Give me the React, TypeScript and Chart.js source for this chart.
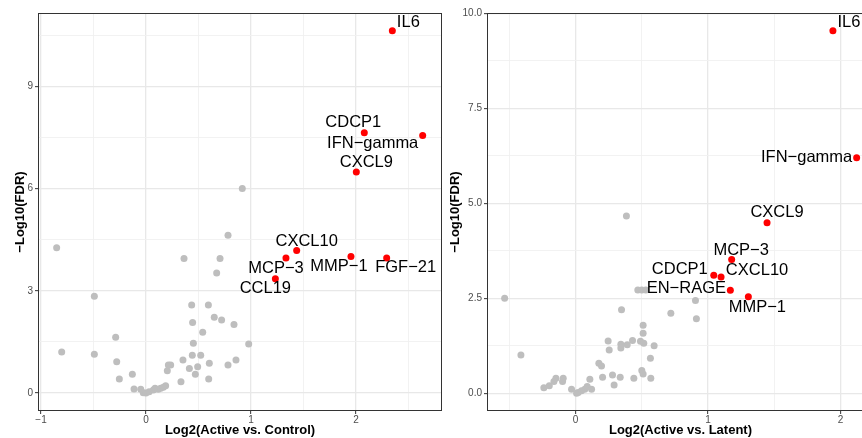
import React, { useEffect, useRef } from "react";
import { Chart, registerables } from "chart.js";

Chart.register(...registerables);

const FONT = '"Liberation Sans", Arial, Helvetica, sans-serif';

// ---------- Left panel: Active vs. Control ----------
const LEFT_GRAY_X = [
  -0.851, -0.803, -0.492, -0.492, -0.289, -0.279, -0.254, -0.13, -0.114, -0.05,
  -0.026, 0.0, 0.03, 0.07, 0.086, 0.117, 0.14, 0.165, 0.187, 0.203,
  0.213, 0.235, 0.333, 0.352, 0.362, 0.413, 0.435, 0.444, 0.451, 0.441,
  0.47, 0.492, 0.521, 0.54, 0.594, 0.603, 0.597, 0.65, 0.673, 0.705,
  0.72, 0.781, 0.781, 0.838, 0.857, 0.978, 0.917,
];
const LEFT_GRAY_Y = [
  4.26, 1.2, 2.84, 1.14, 1.64, 0.92, 0.41, 0.55, 0.12, 0.11,
  0.01, 0.0, 0.04, 0.09, 0.14, 0.11, 0.14, 0.17, 0.21, 0.65,
  0.82, 0.82, 0.33, 0.97, 3.95, 0.72, 2.58, 2.07, 1.46, 1.11,
  0.55, 0.77, 1.11, 1.78, 2.58, 0.87, 0.41, 2.22, 3.52, 3.95,
  2.14, 4.63, 0.82, 2.01, 0.97, 1.44, 6.0,
];
const LEFT_RED_NAMES = ["IL6", "CDCP1", "IFN\u2212gamma", "CXCL9", "CXCL10", "MCP\u22123", "CCL19", "MMP\u22121", "FGF\u221221"];
const LEFT_RED_X = [2.346, 2.079, 2.635, 2.003, 1.435, 1.333, 1.232, 1.952, 2.292];
const LEFT_RED_Y = [10.63, 7.64, 7.56, 6.49, 4.18, 3.96, 3.35, 4.01, 3.96];
const LEFT_X_MAJOR = [-1, 0, 1, 2];
const LEFT_X_LABELS = ["\u22121", "0", "1", "2"];
const LEFT_X_MINOR = [-0.5, 0.5, 1.5, 2.5];
const LEFT_Y_MAJOR = [0, 3, 6, 9];
const LEFT_Y_LABELS = ["0", "3", "6", "9"];
const LEFT_Y_MINOR = [1.5, 4.5, 7.5, 10.5];
const LEFT_X_TITLE = "Log2(Active vs. Control)";

// ---------- Right panel: Active vs. Latent ----------
const RIGHT_GRAY_X = [
  -0.535, -0.412, -0.239, -0.198, -0.163, -0.148, -0.098, -0.093, -0.03, 0.008,
  0.02, 0.045, 0.07, 0.088, 0.108, 0.121, 0.176, 0.196, 0.204, 0.246,
  0.254, 0.279, 0.291, 0.337, 0.342, 0.342, 0.347, 0.39, 0.384, 0.43,
  0.44, 0.49, 0.5, 0.51, 0.515, 0.51, 0.51, 0.565, 0.568, 0.593,
  0.47, 0.5, 0.53, 0.719, 0.905, 0.912,
];
const RIGHT_GRAY_Y = [
  2.5, 1.01, 0.15, 0.2, 0.31, 0.4, 0.31, 0.4, 0.11, 0.0,
  0.02, 0.07, 0.11, 0.18, 0.37, 0.11, 0.79, 0.72, 0.42, 1.38,
  1.14, 0.48, 0.22, 0.42, 1.29, 1.19, 2.2, 1.28, 4.67, 1.39,
  0.4, 1.37, 0.6, 0.51, 1.32, 1.79, 1.58, 0.92, 0.4, 1.25,
  2.72, 2.72, 2.72, 2.11, 2.44, 1.96,
];
const RIGHT_RED_NAMES = ["IL6", "IFN\u2212gamma", "CXCL9", "MCP\u22123", "CDCP1", "CXCL10", "EN\u2212RAGE", "MMP\u22121"];
const RIGHT_RED_X = [1.942, 2.121, 1.445, 1.178, 1.043, 1.098, 1.168, 1.304];
const RIGHT_RED_Y = [9.54, 6.2, 4.49, 3.52, 3.11, 3.06, 2.71, 2.54];
const RIGHT_X_MAJOR = [0, 1, 2];
const RIGHT_X_LABELS = ["0", "1", "2"];
const RIGHT_X_MINOR = [-0.5, 0.5, 1.5];
const RIGHT_Y_MAJOR = [0, 2.5, 5, 7.5, 10];
const RIGHT_Y_LABELS = ["0.0", "2.5", "5.0", "7.5", "10.0"];
const RIGHT_Y_MINOR = [1.25, 3.75, 6.25, 8.75];
const RIGHT_X_TITLE = "Log2(Active vs. Latent)";

const Y_TITLE = "\u2212Log10(FDR)";

// label offsets (pixels, text centre relative to point) — styling only
const LEFT_LABEL_OFFSETS: [number, number][] = [
  [16, -8], [-11, -10], [-50, 8], [10, -9], [10, -9], [-10, 10.5], [-10, 10], [-12, 10.5], [19, 9],
];
const RIGHT_LABEL_OFFSETS: [number, number][] = [
  [16, -8], [-50, 0], [10, -10.5], [9.5, -9.5], [-34, -6], [36, -7], [-44, -1.5], [9, 10.5],
];

const decorPlugin = {
  id: "panelDecor",
  afterDatasetsDraw(chart: any, _args: any, opts: any) {
    const ctx = chart.ctx as CanvasRenderingContext2D;
    const { left, top, right, bottom } = chart.chartArea;
    ctx.save();
    ctx.strokeStyle = "#333333";
    ctx.lineWidth = 1;
    ctx.strokeRect(Math.round(left) + 0.5, Math.round(top) + 0.5, Math.round(right - left) - 1, Math.round(bottom - top) - 1);
    const meta = chart.getDatasetMeta(1);
    ctx.font = `16.5px ${FONT}`;
    ctx.fillStyle = "#000000";
    ctx.textAlign = "center";
    ctx.textBaseline = "middle";
    meta.data.forEach((el: any, i: number) => {
      const o = opts.offsets[i];
      ctx.fillText(opts.names[i], el.x + o[0], el.y + o[1]);
    });
    ctx.restore();
  },
};

interface PanelSpec {
  grayX: number[];
  grayY: number[];
  redX: number[];
  redY: number[];
  names: string[];
  offsets: [number, number][];
  xMajor: number[];
  xLabels: string[];
  xMinor: number[];
  yMajor: number[];
  yLabels: string[];
  yMinor: number[];
  xMin: number;
  xMax: number;
  yMin: number;
  yMax: number;
  xTitle: string;
  yAxisWidth: number;
  yTitlePad: number;
  rightPad: number;
}

function axisOpts(major: number[], labels: string[], minor: number[], horizontal: boolean) {
  const all = [...major, ...minor].sort((a, b) => a - b);
  const isMajor = (v: number) => major.some((m) => Math.abs(m - v) < 1e-9);
  return {
    afterBuildTicks: (scale: any) => {
      scale.ticks = all.map((v) => ({ value: v }));
    },
    ticks: {
      autoSkip: false,
      maxRotation: 0,
      padding: horizontal ? 0 : 2,
      color: "#4d4d4d",
      font: { family: FONT, size: 10 },
      callback: (value: any) => {
        const idx = major.findIndex((m) => Math.abs(m - Number(value)) < 1e-9);
        return idx >= 0 ? labels[idx] : "";
      },
    },
    grid: {
      drawTicks: true,
      tickLength: 3,
      tickWidth: 1,
      color: (c: any) => (c.tick && isMajor(c.tick.value) ? "#e8e8e8" : "#f0f0f0"),
      lineWidth: (c: any) => (c.tick && isMajor(c.tick.value) ? 1.3 : 0.9),
      tickColor: (c: any) => (c.tick && isMajor(c.tick.value) ? "#333333" : "rgba(0,0,0,0)"),
    },
    border: { display: false },
  };
}

function buildConfig(p: PanelSpec): any {
  const gray = p.grayX.map((x, i) => ({ x, y: p.grayY[i] }));
  const red = p.redX.map((x, i) => ({ x, y: p.redY[i] }));
  return {
    type: "scatter",
    data: {
      datasets: [
        { data: gray, pointRadius: 3.5, pointBackgroundColor: "#bebebe", pointBorderWidth: 0, pointHoverRadius: 3.5 },
        { data: red, pointRadius: 3.5, pointBackgroundColor: "#ff0000", pointBorderWidth: 0, pointHoverRadius: 3.5 },
      ],
    },
    options: {
      responsive: false,
      animation: false,
      events: [],
      layout: { padding: { top: 13, right: p.rightPad, left: 0, bottom: 0 } },
      plugins: {
        legend: { display: false },
        tooltip: { enabled: false },
        panelDecor: { names: p.names, offsets: p.offsets },
      },
      scales: {
        x: {
          type: "linear",
          position: "bottom",
          min: p.xMin,
          max: p.xMax,
          afterFit: (s: any) => {
            s.height = 27;
          },
          title: {
            display: true,
            text: p.xTitle,
            color: "#000000",
            font: { family: FONT, size: 13, weight: "bold" },
            padding: { top: 0, bottom: 0 },
          },
          ...axisOpts(p.xMajor, p.xLabels, p.xMinor, true),
        },
        y: {
          type: "linear",
          position: "left",
          min: p.yMin,
          max: p.yMax,
          afterFit: (s: any) => {
            s.width = p.yAxisWidth;
          },
          title: {
            display: true,
            text: Y_TITLE,
            color: "#000000",
            font: { family: FONT, size: 13, weight: "bold" },
            padding: { top: p.yTitlePad, bottom: 0 },
          },
          ...axisOpts(p.yMajor, p.yLabels, p.yMinor, false),
        },
      },
    },
    plugins: [decorPlugin],
  };
}

function Panel({ spec, left, width }: { spec: PanelSpec; left: number; width: number }) {
  const ref = useRef<HTMLCanvasElement | null>(null);
  useEffect(() => {
    if (!ref.current) return;
    const chart = new Chart(ref.current, buildConfig(spec));
    return () => chart.destroy();
  }, [spec]);
  return (
    <canvas
      ref={ref}
      width={width}
      height={438}
      style={{ position: "absolute", left, top: 0, width, height: 438, display: "block" }}
    />
  );
}

const LEFT_SPEC: PanelSpec = {
  grayX: LEFT_GRAY_X,
  grayY: LEFT_GRAY_Y,
  redX: LEFT_RED_X,
  redY: LEFT_RED_Y,
  names: LEFT_RED_NAMES,
  offsets: LEFT_LABEL_OFFSETS,
  xMajor: LEFT_X_MAJOR,
  xLabels: LEFT_X_LABELS,
  xMinor: LEFT_X_MINOR,
  yMajor: LEFT_Y_MAJOR,
  yLabels: LEFT_Y_LABELS,
  yMinor: LEFT_Y_MINOR,
  xMin: -1.0286,
  xMax: 2.819,
  yMin: -0.528,
  yMax: 11.153,
  xTitle: LEFT_X_TITLE,
  yAxisWidth: 38,
  yTitlePad: 13,
  rightPad: 4,
};

const RIGHT_SPEC: PanelSpec = {
  grayX: RIGHT_GRAY_X,
  grayY: RIGHT_GRAY_Y,
  redX: RIGHT_RED_X,
  redY: RIGHT_RED_Y,
  names: RIGHT_RED_NAMES,
  offsets: RIGHT_LABEL_OFFSETS,
  xMajor: RIGHT_X_MAJOR,
  xLabels: RIGHT_X_LABELS,
  xMinor: RIGHT_X_MINOR,
  yMajor: RIGHT_Y_MAJOR,
  yLabels: RIGHT_Y_LABELS,
  yMinor: RIGHT_Y_MINOR,
  xMin: -0.668,
  xMax: 2.252,
  yMin: -0.465,
  yMax: 10.009,
  xTitle: RIGHT_X_TITLE,
  yAxisWidth: 41,
  yTitlePad: 1.5,
  rightPad: 12,
};

export default function App() {
  return (
    <div
      style={{
        position: "fixed",
        left: 0,
        top: 0,
        width: 862,
        height: 438,
        overflow: "hidden",
        background: "#ffffff",
      }}
    >
      <Panel spec={LEFT_SPEC} left={0} width={446} />
      <Panel spec={RIGHT_SPEC} left={446} width={440} />
    </div>
  );
}
